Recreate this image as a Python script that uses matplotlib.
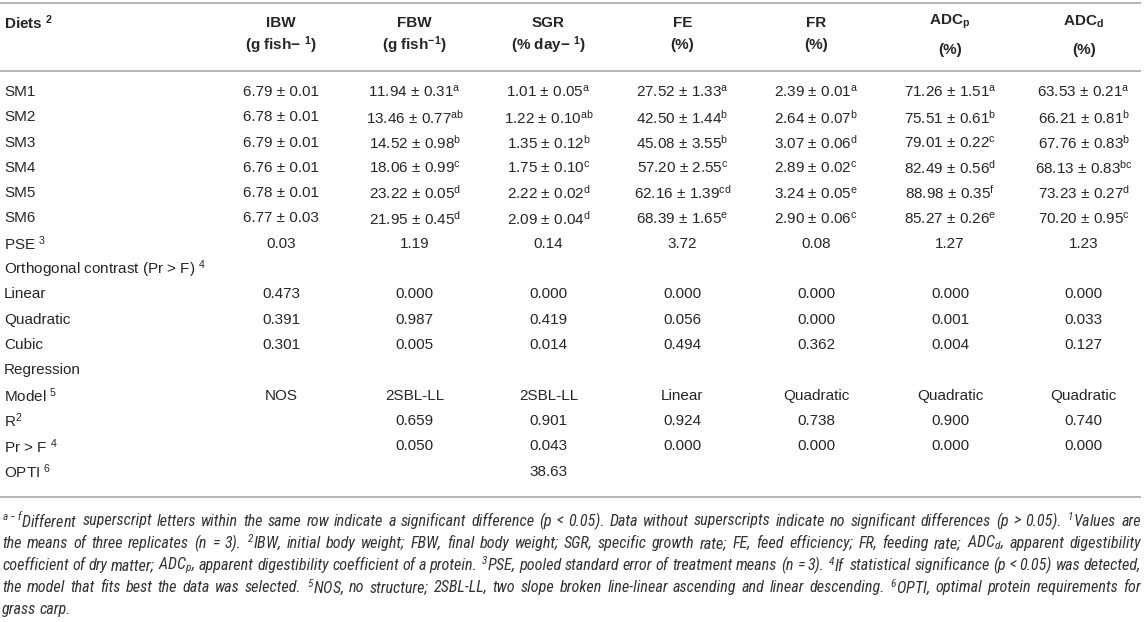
import matplotlib
matplotlib.use("Agg")
import matplotlib.pyplot as plt
from matplotlib import font_manager
from matplotlib.font_manager import FontProperties

# ---- data ----
columns = ["IBW", "FBW", "SGR", "FE", "FR", "ADC$_{p}$", "ADC$_{d}$"]
units = ["(g fish\u2212 $^{1}$)", "(g fish$^{-1}$)", "(% day\u2212 $^{1}$)",
         "(%)", "(%)", "(%)", "(%)"]
diets = ["SM1", "SM2", "SM3", "SM4", "SM5", "SM6"]

ibw_mean = [6.79, 6.78, 6.79, 6.76, 6.78, 6.77]
ibw_sd = [0.01, 0.01, 0.01, 0.01, 0.01, 0.03]
ibw_sup = ["", "", "", "", "", ""]
fbw_mean = [11.94, 13.46, 14.52, 18.06, 23.22, 21.95]
fbw_sd = [0.31, 0.77, 0.98, 0.99, 0.05, 0.45]
fbw_sup = ["a", "ab", "b", "c", "d", "d"]
sgr_mean = [1.01, 1.22, 1.35, 1.75, 2.22, 2.09]
sgr_sd = [0.05, 0.10, 0.12, 0.10, 0.02, 0.04]
sgr_sup = ["a", "ab", "b", "c", "d", "d"]
fe_mean = [27.52, 42.50, 45.08, 57.20, 62.16, 68.39]
fe_sd = [1.33, 1.44, 3.55, 2.55, 1.39, 1.65]
fe_sup = ["a", "b", "b", "c", "cd", "e"]
fr_mean = [2.39, 2.64, 3.07, 2.89, 3.24, 2.90]
fr_sd = [0.01, 0.07, 0.06, 0.02, 0.05, 0.06]
fr_sup = ["a", "b", "d", "c", "e", "c"]
adcp_mean = [71.26, 75.51, 79.01, 82.49, 88.98, 85.27]
adcp_sd = [1.51, 0.61, 0.22, 0.56, 0.35, 0.26]
adcp_sup = ["a", "b", "c", "d", "f", "e"]
adcd_mean = [63.53, 66.21, 67.76, 68.13, 73.23, 70.20]
adcd_sd = [0.21, 0.81, 0.83, 0.83, 0.27, 0.95]
adcd_sup = ["a", "b", "b", "bc", "d", "c"]

pse = ["0.03", "1.19", "0.14", "3.72", "0.08", "1.27", "1.23"]
linear = ["0.473", "0.000", "0.000", "0.000", "0.000", "0.000", "0.000"]
quadratic = ["0.391", "0.987", "0.419", "0.056", "0.000", "0.001", "0.033"]
cubic = ["0.301", "0.005", "0.014", "0.494", "0.362", "0.004", "0.127"]
model = ["NOS", "2SBL-LL", "2SBL-LL", "Linear", "Quadratic", "Quadratic", "Quadratic"]
r2 = ["", "0.659", "0.901", "0.924", "0.738", "0.900", "0.740"]
pr_f = ["", "0.050", "0.043", "0.000", "0.000", "0.000", "0.000"]
opti = ["", "", "38.63", "", "", "", ""]

footnote = [
    "$^{a-f}$Different superscript letters within the same row indicate a significant difference (p < 0.05). Data without superscripts indicate no significant differences (p > 0.05). $^{1}$Values are",
    "the means of three replicates (n = 3). $^{2}$IBW, initial body weight; FBW, final body weight; SGR, specific growth rate; FE, feed efficiency; FR, feeding rate; ADC$_{d}$, apparent digestibility",
    "coefficient of dry matter; ADC$_{p}$, apparent digestibility coefficient of a protein. $^{3}$PSE, pooled standard error of treatment means (n = 3). $^{4}$If statistical significance (p < 0.05) was detected,",
    "the model that fits best the data was selected. $^{5}$NOS, no structure; 2SBL-LL, two slope broken line-linear ascending and linear descending. $^{6}$OPTI, optimal protein requirements for",
    "grass carp.",
]

# ---- style ----
plt.rcParams["font.family"] = ["Liberation Sans", "DejaVu Sans"]
plt.rcParams["mathtext.default"] = "regular"


def foot_font():
    # narrow italic if one is around, else plain italic
    condensed = ("condensed", "semi-condensed", "extra-condensed", "ultra-condensed")
    for name in ["Liberation Sans Narrow", "Roboto Condensed", "Noto Sans", "Open Sans"]:
        for f in font_manager.fontManager.ttflist:
            if f.name == name and f.style in ("italic", "oblique") and \
                    ("Narrow" in name or "Condensed" in name or str(f.stretch) in condensed):
                return FontProperties(fname=f.fname)
    return FontProperties(family="Liberation Sans", style="italic")


TXT = "#262626"
RULE = "#a8a8a8"
FS = 11.0
W, H = 1145, 622

fig = plt.figure(figsize=(W / 100, H / 100), dpi=100)
ax = fig.add_axes([0, 0, 1, 1])
ax.set_xlim(0, W)
ax.set_ylim(H, 0)
ax.axis("off")

col_x = [281 + 133.8 * i for i in range(7)]
row_y0 = 92
row_dy = 25.3

# rules
for yy in (3, 71, 497):
    ax.plot([0, 1141], [yy, yy], color=RULE, lw=1.2, solid_capstyle="butt")

# header
ax.text(4, 23, "Diets $^{2}$", fontsize=FS, fontweight="bold", color=TXT, va="center", ha="left")
for i, (c, u) in enumerate(zip(columns, units)):
    sub = "_" in c
    ax.text(col_x[i], 22 if sub else 23, c, fontsize=FS, fontweight="bold", color=TXT,
            ha="center", va="center")
    ax.text(col_x[i], 50 if sub else 45, u, fontsize=FS, fontweight="bold", color=TXT,
            ha="center", va="center")

# body
means = [ibw_mean, fbw_mean, sgr_mean, fe_mean, fr_mean, adcp_mean, adcd_mean]
sds = [ibw_sd, fbw_sd, sgr_sd, fe_sd, fr_sd, adcp_sd, adcd_sd]
sups = [ibw_sup, fbw_sup, sgr_sup, fe_sup, fr_sup, adcp_sup, adcd_sup]

rows = []
for r, d in enumerate(diets):
    cells = []
    for c in range(7):
        s = "%.2f \u00b1 %.2f" % (means[c][r], sds[c][r])
        if sups[c][r]:
            s += "$^{%s}$" % sups[c][r]
        cells.append(s)
    rows.append((d, cells))
rows.append(("PSE $^{3}$", pse))
rows.append(("Orthogonal contrast (Pr > F) $^{4}$", [""] * 7))
rows.append(("Linear", linear))
rows.append(("Quadratic", quadratic))
rows.append(("Cubic", cubic))
rows.append(("Regression", [""] * 7))
rows.append(("Model $^{5}$", model))
rows.append(("R$^{2}$", r2))
rows.append(("Pr > F $^{4}$", pr_f))
rows.append(("OPTI $^{6}$", opti))

for r, (label, cells) in enumerate(rows):
    y = row_y0 + r * row_dy
    ax.text(4, y, label, fontsize=FS, color=TXT, ha="left", va="center")
    for c, s in enumerate(cells):
        if s:
            ax.text(col_x[c], y, s, fontsize=FS, color=TXT, ha="center", va="center")

# footnote, justified word by word
renderer = fig.canvas.get_renderer()
x_left, x_right = 2, 1141
foot_y0, foot_dy = 521, 22.2
fp = foot_font()

base = 10.0
lines_txt = []
natural = []
for i, ln in enumerate(footnote):
    ts = []
    for w in ln.split(" "):
        t = ax.text(0, foot_y0 + i * foot_dy, w, fontproperties=fp, color="#333333",
                    ha="left", va="center")
        t.set_fontsize(base)
        ts.append(t)
    lines_txt.append(ts)
    ww = sum(t.get_window_extent(renderer).width for t in ts)
    natural.append(ww + (len(ts) - 1) * 0.22 * base * 100 / 72)
k = min((x_right - x_left) / max(natural[:-1]), 1.35)
fs_foot = base * k
for i, ts in enumerate(lines_txt):
    for t in ts:
        t.set_fontsize(fs_foot)
    widths = [t.get_window_extent(renderer).width for t in ts]
    if i < len(lines_txt) - 1 and len(ts) > 1:
        gap = (x_right - x_left - sum(widths)) / (len(ts) - 1)
    else:
        gap = 0.22 * fs_foot * 100 / 72
    x = x_left
    for t, w in zip(ts, widths):
        t.set_x(x)
        x += w + gap

fig.savefig("out.png", dpi=100)
